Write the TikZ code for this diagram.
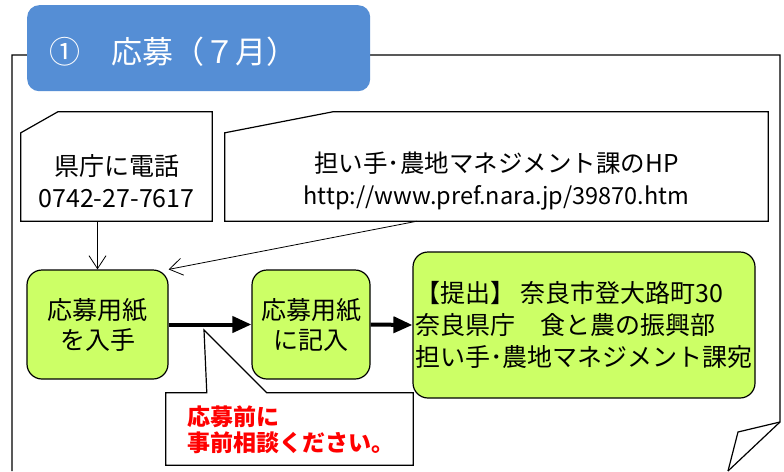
\documentclass[tikz,border=0pt]{standalone}
\usepackage{fontspec}
\setmainfont{Noto Sans CJK JP}
\usetikzlibrary{arrows.meta}
\definecolor{titleblue}{RGB}{85,142,213}
\definecolor{boxgreen}{RGB}{204,255,102}
\begin{document}
\begin{tikzpicture}[x=1pt,y=-1pt,
  outline/.style={draw=black,line width=1.2pt,line join=miter},
  greenbox/.style={draw=black,fill=boxgreen,line width=1.2pt,rounded corners=15pt,align=center,inner sep=0pt,font=\fontsize{25}{30}\selectfont},
  slot/.style={inner sep=0pt,draw=none},
  thinarrow/.style={line width=0.8pt,-{Straight Barb[length=13pt,width=17pt]}},
  thickarrow/.style={line width=4pt,-{Triangle[length=19pt,width=16pt]}}]
\useasboundingbox (0,0) rectangle (784,471);
\fill[white] (0,0) rectangle (784,471);
% page frame with folded corner
\draw[outline] (12,471) -- (12,55) -- (780,55) -- (780,422) -- (728,471);
\draw[outline] (780,422) -- (738,432) -- (728,471);
% title tab
\node[fill=titleblue,rounded corners=12pt,minimum width=343pt,minimum height=86pt,anchor=north west,inner sep=0pt] (title) at (27,5) {};
\node[anchor=west,text=white,inner sep=0pt,font=\fontsize{31}{31}\selectfont] (titletext) at (49,52) {①　応募（７月）};
% phone box
\node[slot,minimum width=191pt,minimum height=109pt] (tel) at (116.5,166.5) {};
\draw[outline,fill=white] ([yshift=-21pt]tel.north west) -- ([xshift=37pt]tel.north west) -- (tel.north east) -- (tel.south east) -- (tel.south west) -- cycle;
\node[align=center,inner sep=0pt,font=\fontsize{25}{32}\selectfont] (teltext) at (116.5,181) {県庁に電話\\0742-27-7617};
% HP box
\node[slot,minimum width=543pt,minimum height=109pt] (hp) at (496.5,166.5) {};
\draw[outline,fill=white] ([yshift=-21pt]hp.north west) -- ([xshift=108pt]hp.north west) -- (hp.north east) -- (hp.south east) -- (hp.south west) -- cycle;
\node[align=center,inner sep=0pt,font=\fontsize{24.5}{32}\selectfont] (hptext) at (496.5,181) {担い手･農地マネジメント課のHP\\{\fontsize{23.5}{32}\selectfont http://www.pref.nara.jp/39870.htm}};
% green boxes
\node[greenbox,minimum width=141pt,minimum height=109pt] (b1) at (97.5,324.5) {応募用紙\\を入手};
\node[greenbox,minimum width=118pt,minimum height=109pt] (b2) at (311,324.5) {応募用紙\\に記入};
\node[greenbox,align=left,minimum width=342pt,minimum height=146pt,font=\fontsize{25}{32}\selectfont] (b3) at (584,325) {【提出】 奈良市登大路町30\\奈良県庁　食と農の振興部\\担い手･農地マネジメント課宛};
% connectors
\draw[thinarrow] (b1.north |- tel.south) -- (b1.north);
\draw[thinarrow] ([xshift=-79.5pt]hp.south) -- (b1.north east);
\draw[thickarrow] (b1.east) -- (b2.west);
\draw[thickarrow] (b2.east) -- (b3.west);
% callout
\coordinate (tip) at (204,330);
\node[slot,minimum width=247pt,minimum height=72pt] (note) at (289.5,429) {};
\draw[outline,fill=white] (note.north west) -- ([xshift=41pt]note.north west) -- (tip) -- ([xshift=101pt]note.north west) -- (note.north east) -- (note.south east) -- (note.south west) -- cycle;
\node[anchor=west,align=left,inner sep=0pt,text=red,font=\bfseries\fontsize{23}{26}\selectfont] (notetext) at (187,430) {応募前に\\事前相談ください。};
\end{tikzpicture}
\end{document}
